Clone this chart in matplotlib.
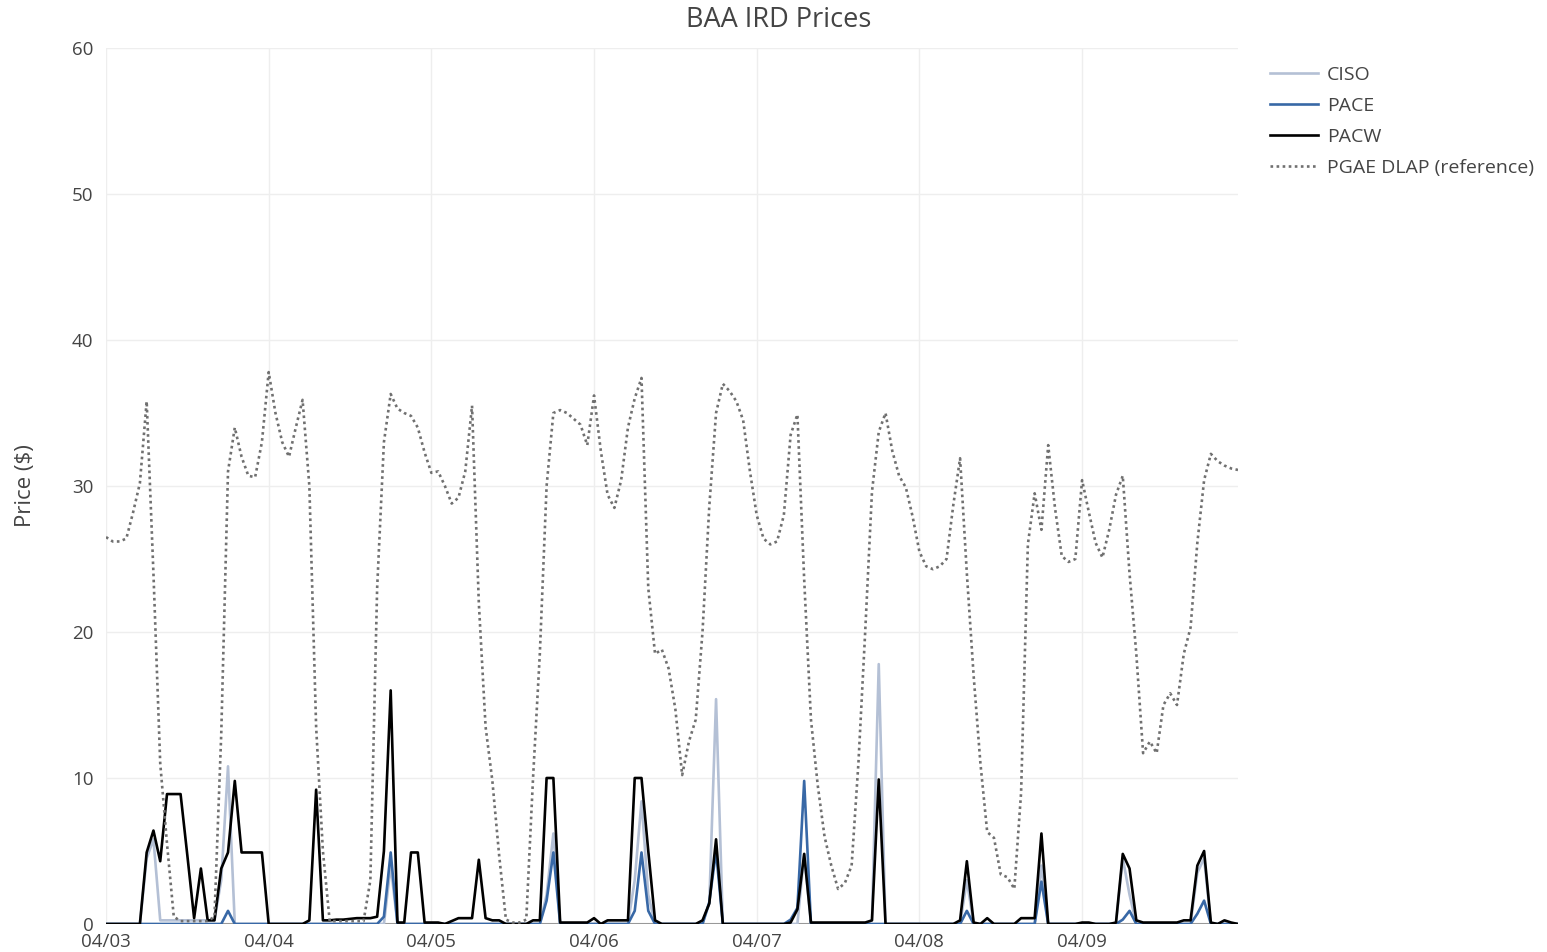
import matplotlib
matplotlib.use('Agg')
import pandas as pd
import matplotlib.pyplot as plt
import matplotlib.dates as mdates

plt.rcParams['font.family'] = ['Open Sans', 'DejaVu Sans']

# hourly prices, 04/03 00:00 .. 04/09 23:00
hours = pd.date_range('2019-04-03', periods=168, freq='h')

pgae = [26.5, 26.2, 26.2, 26.4, 28.2, 30.2, 35.8, 24, 11, 5.5, 0.5, 0.2, 0.2, 0.2, 0.2, 0.2, 0.5, 13, 31, 34, 32, 30.7, 30.6, 33,
        37.8, 35, 33, 32, 34, 35.9, 30, 13.5, 5, 0.2, 0.2, 0.2, 0.2, 0.2, 0.2, 3, 23, 33, 36.3, 35.3, 35, 34.8, 34, 32.3,
        30.9, 31, 30, 28.8, 29.2, 31, 35.5, 22, 13.5, 9.8, 4.7, 0.3, 0.1, 0.1, 0.3, 10, 18.5, 30, 35, 35.2, 35, 34.6, 34.2, 32.8,
        36.2, 32.4, 29.4, 28.5, 30.4, 34, 36, 37.4, 23, 18.5, 18.8, 17.5, 14.7, 10.2, 12.5, 14, 20, 28.6, 35, 37, 36.5, 35.8, 34.5, 31,
        28, 26.4, 26, 26.2, 28, 33.5, 34.9, 23.6, 14, 9.5, 6, 4, 2.4, 2.8, 4, 11, 20, 29.6, 33.7, 35, 32.4, 30.7, 29.9, 27.9,
        25.5, 24.5, 24.3, 24.5, 25, 28.7, 31.9, 24, 17, 11, 6.3, 5.9, 3.4, 3.2, 2.4, 9, 26, 29.5, 27, 32.8, 28.5, 25.2, 24.8, 25,
        30.4, 28.2, 26.1, 25.1, 27, 29.4, 30.7, 24, 18.5, 11.7, 12.5, 11.7, 15, 15.8, 15, 18.5, 20.3, 26.1, 30.4, 32.2, 31.7, 31.4, 31.2, 31.1]

pacw = [0, 0, 0, 0, 0, 0, 4.9, 6.4, 4.3, 8.9, 8.9, 8.9, 4.7, 0.4, 3.8, 0.25, 0.25, 3.8, 4.9, 9.8, 4.9, 4.9, 4.9, 4.9,
        0, 0, 0, 0, 0, 0, 0.25, 9.2, 0.25, 0.25, 0.3, 0.3, 0.35, 0.4, 0.4, 0.4, 0.5, 5, 16, 0.1, 0.1, 4.9, 4.9, 0.1,
        0.1, 0.1, 0, 0.2, 0.4, 0.4, 0.4, 4.4, 0.4, 0.25, 0.25, 0, 0, 0, 0, 0.25, 0.25, 10, 10, 0.1, 0.1, 0.1, 0.1, 0.1,
        0.4, 0, 0.25, 0.25, 0.25, 0.25, 10, 10, 5, 0.25, 0, 0, 0, 0, 0, 0, 0.25, 1.4, 5.8, 0, 0, 0, 0, 0,
        0, 0, 0, 0, 0, 0.1, 1, 4.8, 0.1, 0.1, 0.1, 0.1, 0.1, 0.1, 0.1, 0.1, 0.1, 0.25, 9.9, 0, 0, 0, 0, 0,
        0, 0, 0, 0, 0, 0, 0.25, 4.3, 0.1, 0, 0.4, 0, 0, 0, 0, 0.4, 0.4, 0.4, 6.2, 0, 0, 0, 0, 0,
        0.1, 0.1, 0, 0, 0, 0.1, 4.8, 3.8, 0.25, 0.1, 0.1, 0.1, 0.1, 0.1, 0.1, 0.25, 0.25, 4, 5, 0.1, 0, 0.25, 0.1, 0]

pace = [0, 0, 0, 0, 0, 0, 0, 0, 0, 0, 0, 0, 0, 0, 0, 0, 0, 0, 0.9, 0, 0, 0, 0, 0,
        0, 0, 0, 0, 0, 0, 0, 0, 0, 0, 0, 0, 0, 0, 0, 0, 0, 0.5, 4.9, 0, 0, 0, 0, 0,
        0, 0, 0, 0, 0, 0, 0, 0, 0, 0, 0, 0, 0, 0, 0, 0, 0, 1.6, 4.9, 0, 0, 0, 0, 0,
        0, 0, 0, 0, 0, 0, 0.9, 4.9, 0.9, 0, 0, 0, 0, 0, 0, 0, 0, 1.5, 5, 0, 0, 0, 0, 0,
        0, 0, 0, 0, 0, 0.3, 1.1, 9.8, 0, 0, 0, 0, 0, 0, 0, 0, 0, 0, 0, 0, 0, 0, 0, 0,
        0, 0, 0, 0, 0, 0, 0, 0.9, 0, 0, 0, 0, 0, 0, 0, 0, 0, 0, 2.9, 0, 0, 0, 0, 0,
        0, 0, 0, 0, 0, 0, 0.3, 0.9, 0, 0, 0, 0, 0, 0, 0, 0, 0, 0.7, 1.6, 0, 0, 0, 0, 0]

ciso = [0, 0, 0, 0, 0, 0, 4.5, 5.8, 0.25, 0.25, 0.25, 0.25, 0.25, 0.25, 0.25, 0.25, 0.25, 3, 10.8, 0, 0, 0, 0, 0,
        0, 0, 0, 0, 0, 0, 0, 0, 0, 0, 0, 0, 0, 0, 0, 0, 0, 0, 4, 0, 0, 0, 0, 0,
        0, 0, 0, 0, 0, 0, 0, 0, 0, 0, 0, 0, 0, 0, 0, 0, 0, 2, 6.2, 0, 0, 0, 0, 0,
        0, 0, 0, 0, 0, 0, 3, 8.4, 2, 0, 0, 0, 0, 0, 0, 0, 0, 1.4, 15.4, 0, 0, 0, 0, 0,
        0, 0, 0, 0, 0, 0, 0, 4.8, 0, 0, 0, 0, 0, 0, 0, 0, 0, 0.25, 17.8, 0, 0, 0, 0, 0,
        0, 0, 0, 0, 0, 0, 0, 3, 0, 0, 0, 0, 0, 0, 0, 0, 0, 0, 4, 0, 0, 0, 0, 0,
        0, 0, 0, 0, 0, 0, 4.5, 2, 0, 0, 0, 0, 0, 0, 0, 0, 0, 3.5, 4.5, 0, 0, 0, 0, 0]

W, H = 1547, 952
fig = plt.figure(figsize=(W / 100, H / 100), dpi=100)
ax = fig.add_axes([106 / W, 28 / H, (1238 - 106) / W, (924 - 48) / H])

ax.plot(hours, ciso, color='#b4c0d5', lw=1.9, label='CISO', zorder=3)
ax.plot(hours, pace, color='#3868a6', lw=1.9, label='PACE', zorder=4)
ax.plot(hours, pacw, color='black', lw=1.9, label='PACW', zorder=5)
ax.plot(hours, pgae, color='#707070', lw=1.9, linestyle=(0, (1, 1.3)),
        dash_capstyle='butt', label='PGAE DLAP (reference)', zorder=6)

ax.axhline(0, color='#999999', lw=1.5, zorder=2)

ax.set_xlim(hours[0], hours[-1])
ax.set_ylim(0, 60)
ax.set_yticks(range(0, 61, 10))
ax.xaxis.set_major_locator(mdates.DayLocator())
ax.xaxis.set_major_formatter(mdates.DateFormatter('%m/%d'))

ax.grid(True, color='#eeeeee', lw=1)
ax.set_axisbelow(True)
for s in ax.spines.values():
    s.set_visible(False)
ax.tick_params(length=0, labelsize=13.5, colors='#444444')
ax.tick_params(axis='y', pad=9)
ax.tick_params(axis='x', pad=6.5)

fig.text(25 / W, 1 - 486 / H, 'Price ($)', rotation=90, ha='center', va='center',
         fontsize=16, color='#444444')
fig.text(779 / W, 1 - 20 / H, 'BAA IRD Prices', ha='center', va='center',
         fontsize=19.5, color='#444444')

fig.legend(*ax.get_legend_handles_labels(), loc='upper left',
           bbox_to_anchor=(1252 / W, 1 - 48 / H), frameon=False, fontsize=14,
           handlelength=2.5, labelspacing=0.67, handletextpad=0.45,
           labelcolor='#444444')

fig.savefig('out.png', dpi=100)
